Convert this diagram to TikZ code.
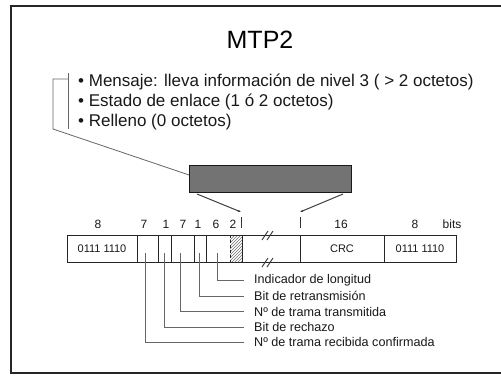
\documentclass[tikz,border=0pt]{standalone}
\usepackage{fontspec}
\setmainfont{Liberation Sans}
\usetikzlibrary{patterns,arrows.meta}
\begin{document}
\begin{tikzpicture}[x=1pt,y=-1pt,
  fieldline/.style={draw=black!85,line width=0.9pt},
  leader/.style={draw=black!60,line width=0.8pt},
  lbl/.style={font=\fontsize{12.6}{14}\selectfont,anchor=west,inner sep=0pt,text=black!90},
  num/.style={font=\fontsize{12}{14}\selectfont,inner sep=0pt,text=black!90},
  fld/.style={font=\fontsize{11}{13}\selectfont,inner sep=0pt,text=black!90},
  bul/.style={font=\fontsize{17}{20}\selectfont,anchor=west,inner sep=0pt,text=black!90},
  pointer/.style={draw=black!75,line width=1pt,-{Latex[length=3pt,width=2.5pt]}},
  brk/.style={draw=black!80,line width=0.9pt}]
\useasboundingbox (0,0) rectangle (501,383);
\fill[white] (0,0) rectangle (501,383);
% outer frame (right side cut off)
\draw[line width=1.4pt,black!85] (511,6) -- (11,6) -- (11,373) -- (511,373);
% title
\node[font=\fontsize{25}{30}\selectfont,inner sep=0pt] (title) at (260,40) {MTP2};
% bullets
\node[bul] (b1) at (78,82) {• Mensaje: lleva información de nivel 3 ( > 2 octetos)};
\node[bul] (b2) at (78,102) {• Estado de enlace (1 ó 2 octetos)};
\node[bul] (b3) at (78,122) {• Relleno (0 octetos)};
% bracket
\coordinate (brT) at (68,73);
\coordinate (brB) at (68,129);
\coordinate (brK) at (68,79);
\coordinate (brL) at (53,79);
\coordinate (brD) at (53,129);
\draw[leader] (brT) -- (brB);
\draw[leader] (brK) -- (brL) -- (brD) -- (195,177) coordinate (brE);
% dark box
\node[draw=black!90,line width=1pt,fill=black!55,minimum width=162pt,minimum height=27pt,inner sep=0pt] (msg) at (270,178.5) {};
% pointers
\coordinate (lt) at (241,212);
\coordinate (rt) at (300,212);
\draw[pointer] (197,194) coordinate (ls) -- (lt);
\draw[pointer] (343,194) coordinate (rs) -- (rt);
\draw[line width=1pt,black!80] (241,217) -- (241,228);
\draw[line width=1pt,black!80] (300,217) -- (300,228);
% bit counts
\node[num] (n1) at (98,224) {8};
\node[num] (n2) at (144,224) {7};
\node[num] (n3) at (166,224) {1};
\node[num] (n4) at (183,224) {7};
\node[num] (n5) at (198,224) {1};
\node[num] (n6) at (216,224) {6};
\node[num] (n7) at (233,224) {2};
\node[num] (n8) at (341,224) {16};
\node[num] (n9) at (415,224) {8};
\node[num] (n10) at (452,224) {bits};
% hatched
\fill[pattern=north east lines,pattern color=black!55] (230,235) rectangle (242,262);
% frame
\draw[fieldline] (67,235) -- (456,235) -- (456,262) -- (67,262) -- cycle;
\foreach \x in {137,158,171,194,206,242,300,384}
  \draw[fieldline] (\x,235) -- (\x,262);
\draw[fieldline,dashed,dash pattern=on 3pt off 2pt] (230,235) -- (230,262);
% break marks
\draw[brk] (262,240) -- (268,231);
\draw[brk] (267,240) -- (273,231);
\draw[brk] (262,267) -- (268,258);
\draw[brk] (267,267) -- (273,258);
% field texts
\node[fld] (f1) at (102,249) {0111 1110};
\node[fld] (f2) at (342,249) {CRC};
\node[fld] (f3) at (420,249) {0111 1110};
% labels
\node[lbl] (l1) at (254,280) {Indicador de longitud};
\node[lbl] (l2) at (254,296) {Bit de retransmisión};
\node[lbl] (l3) at (254,311.5) {Nº de trama transmitida};
\node[lbl] (l4) at (254,327) {Bit de rechazo};
\node[lbl] (l5) at (254,342) {Nº de trama recibida confirmada};
% leaders
\coordinate (s1) at (217,253);
\coordinate (s2) at (199,253);
\coordinate (s3) at (180,253);
\coordinate (s4) at (164,253);
\coordinate (s5) at (145,253);
\draw[leader] (s1) |- ([xshift=-10pt]l1.west);
\draw[leader] (s2) |- ([xshift=-10pt]l2.west);
\draw[leader] (s3) |- ([xshift=-10pt]l3.west);
\draw[leader] (s4) |- ([xshift=-10pt]l4.west);
\draw[leader] (s5) |- ([xshift=-10pt]l5.west);
\end{tikzpicture}
\end{document}
